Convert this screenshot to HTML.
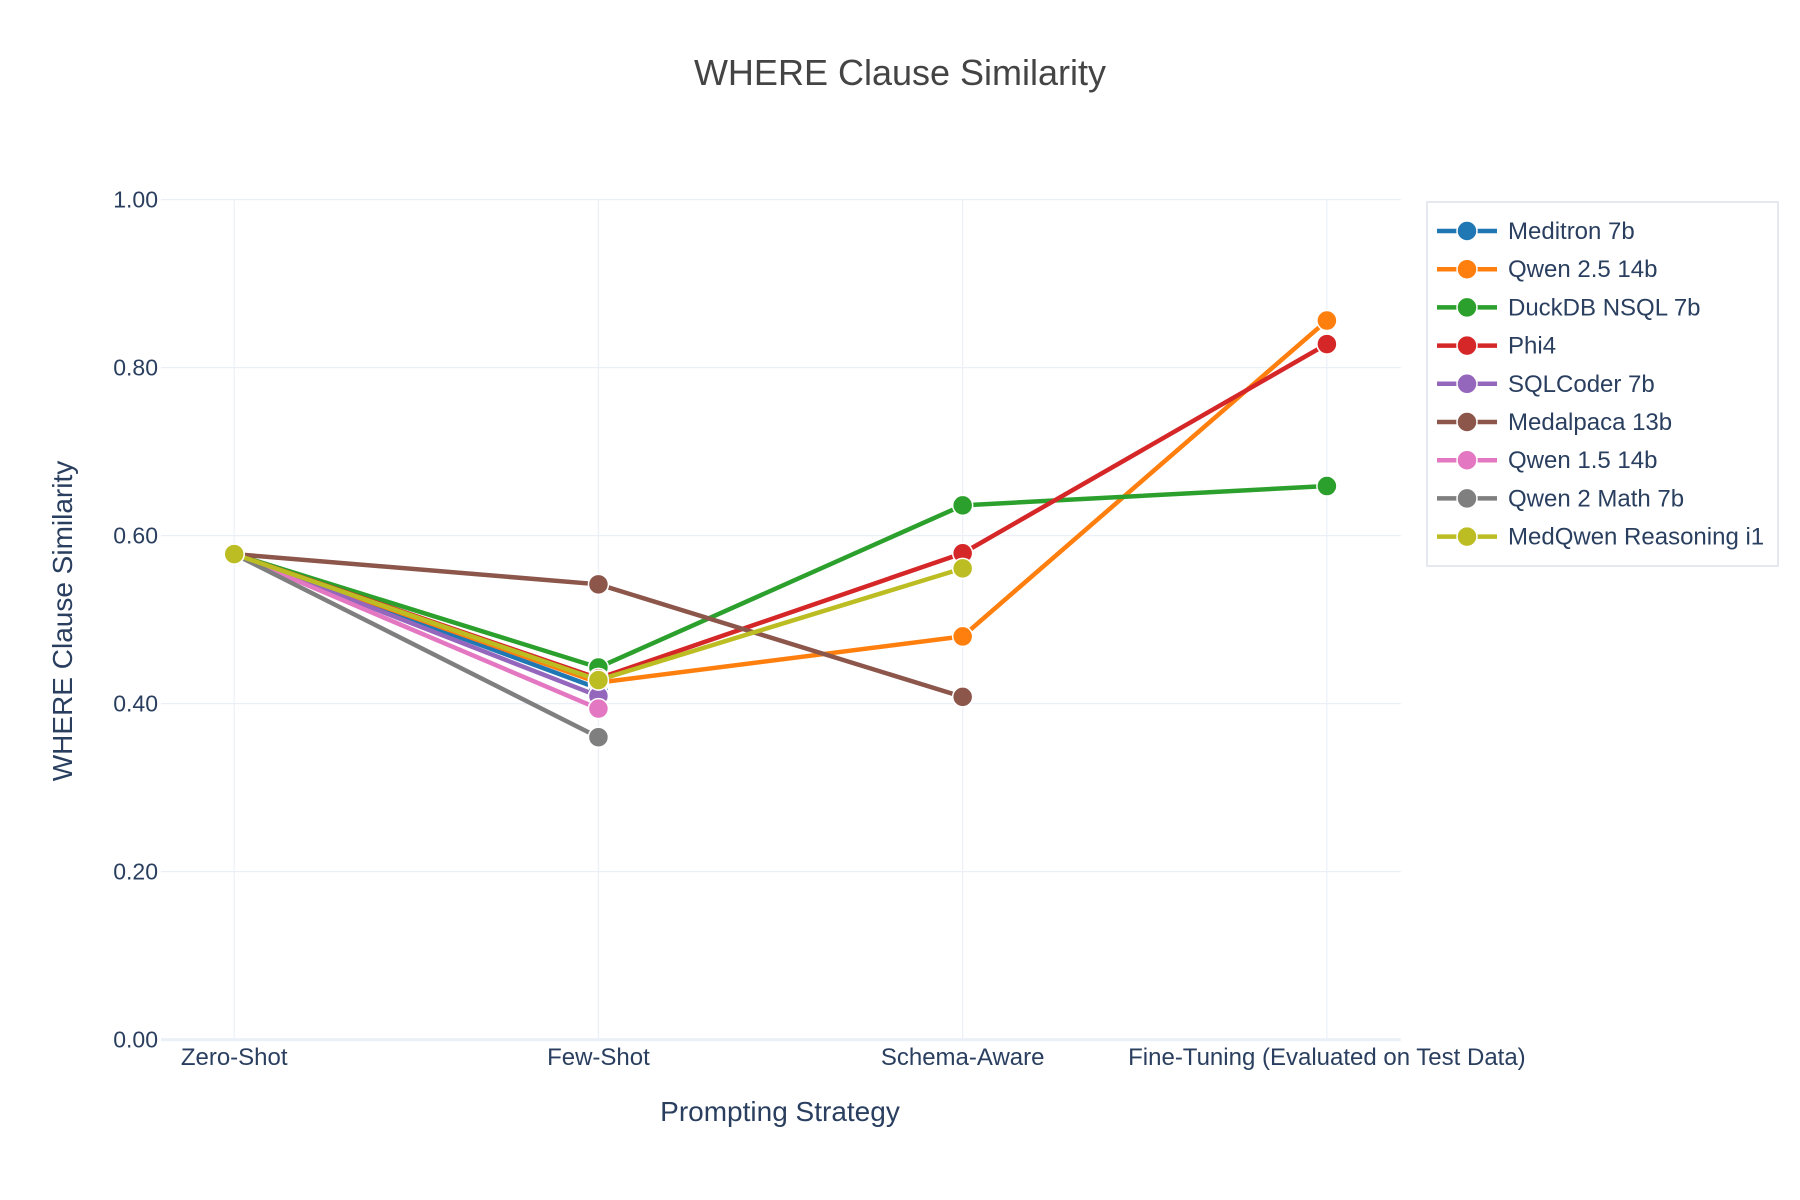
<!DOCTYPE html>
<html><head><meta charset="utf-8"><style>
html,body{margin:0;padding:0;background:#fff;}
svg{display:block;font-family:"Liberation Sans",Arial,sans-serif;}
</style></head><body>
<svg id="chart" width="1800" height="1200" viewBox="0 0 1800 1200" xmlns="http://www.w3.org/2000/svg">
<rect width="1800" height="1200" fill="#fff"/>
<text x="900" y="85" text-anchor="middle" font-size="36" fill="#444">WHERE Clause Similarity</text>
<g id="grid"></g>
<g id="lines"></g>
<g id="axes"></g>
<text transform="translate(72,621) rotate(-90)" text-anchor="middle" font-size="28" fill="#2a3f5f">WHERE Clause Similarity</text>
<text x="780" y="1121" text-anchor="middle" font-size="28" fill="#2a3f5f">Prompting Strategy</text>
<g id="legend"></g>
</svg>
<script>
const categories = ["Zero-Shot","Few-Shot","Schema-Aware","Fine-Tuning (Evaluated on Test Data)"];
const seriesNames = ["Meditron 7b","Qwen 2.5 14b","DuckDB NSQL 7b","Phi4","SQLCoder 7b","Medalpaca 13b","Qwen 1.5 14b","Qwen 2 Math 7b","MedQwen Reasoning i1"];
const seriesColors = ["#1f77b4","#ff7f0e","#2ca02c","#d62728","#9467bd","#8c564b","#e377c2","#7f7f7f","#bcbd22"];
const meditron = [0.578,0.418,null,null];
const qwen25 = [0.578,0.425,0.480,0.856];
const duckdb = [0.578,0.443,0.636,0.659];
const phi4 = [0.578,0.430,0.579,0.828];
const sqlcoder = [0.578,0.409,null,null];
const medalpaca = [0.578,0.542,0.408,null];
const qwen15 = [0.578,0.394,null,null];
const qwen2math = [0.578,0.360,null,null];
const medqwen = [0.578,0.428,0.561,null];
const yTicks = [0,0.2,0.4,0.6,0.8,1.0];
const yTickLabels = ["0.00","0.20","0.40","0.60","0.80","1.00"];

const seriesValues = [meditron,qwen25,duckdb,phi4,sqlcoder,medalpaca,qwen15,qwen2math,medqwen];
const NS="http://www.w3.org/2000/svg";
const PL=161, PR=1400.8, PT=199.6, PB=1039.6;
const xPos = i => 234.2 + i*(1326.9-234.2)/(categories.length-1);
const yPos = v => PB - v*(PB-PT);
function mk(tag, attrs, parent){const e=document.createElementNS(NS,tag);for(const k in attrs)e.setAttribute(k,attrs[k]);parent.appendChild(e);return e;}
const grid=document.getElementById('grid'), axes=document.getElementById('axes'), lines=document.getElementById('lines'), legend=document.getElementById('legend');

categories.forEach((c,i)=>{
  const l=mk('line',{x1:xPos(i),x2:xPos(i),y1:PT,y2:PB,stroke:'#ebf0f8','stroke-width':1.2},grid);
  
  
  const t=mk('text',{x:xPos(i),y:1065,'text-anchor':'middle','font-size':24,fill:'#2a3f5f'},axes);
  t.textContent=c;
  
  
});
yTicks.forEach((v,i)=>{
  const l=mk('line',{x1:PL,x2:PR,y1:yPos(v),y2:yPos(v),stroke:'#ebf0f8','stroke-width':v===0?3:1.2},grid);
  
  
  const t=mk('text',{x:158,y:yPos(v)+8,'text-anchor':'end','font-size':23,fill:'#2a3f5f'},axes);
  t.textContent=yTickLabels[i];
  
  
});

seriesValues.forEach((vals,s)=>{
  const g=mk('g',{},lines);
  
  
  const pts=[];
  vals.forEach((v,i)=>{ if(v!==null) pts.push([xPos(i),yPos(v)]); });
  const pl=mk('polyline',{points:pts.map(p=>p.join(',')).join(' '),fill:'none',stroke:seriesColors[s],'stroke-width':4.5,'stroke-linejoin':'round'},g);
  
  
  pts.forEach(p=>{
    const c=mk('circle',{cx:p[0],cy:p[1],r:10,fill:seriesColors[s],stroke:'#fff','stroke-width':1.5},g);
    
    
  });
});

const LX=1427;
const lb=mk('rect',{x:LX,y:202,width:351,height:364,fill:'#fff',stroke:'#e5e8ee','stroke-width':2},legend);


seriesNames.forEach((n,i)=>{
  const y=231+i*38.2;
  const g=mk('g',{},legend);
  
  
  mk('line',{x1:LX+10,x2:LX+70,y1:y,y2:y,stroke:seriesColors[i],'stroke-width':4.5},g);
  mk('circle',{cx:LX+40,cy:y,r:10,fill:seriesColors[i],stroke:'#fff','stroke-width':1.5},g);
  const t=mk('text',{x:LX+81,y:y+8,'font-size':24,fill:'#2a3f5f'},g);
  t.textContent=n;
});
</script>
</body></html>
